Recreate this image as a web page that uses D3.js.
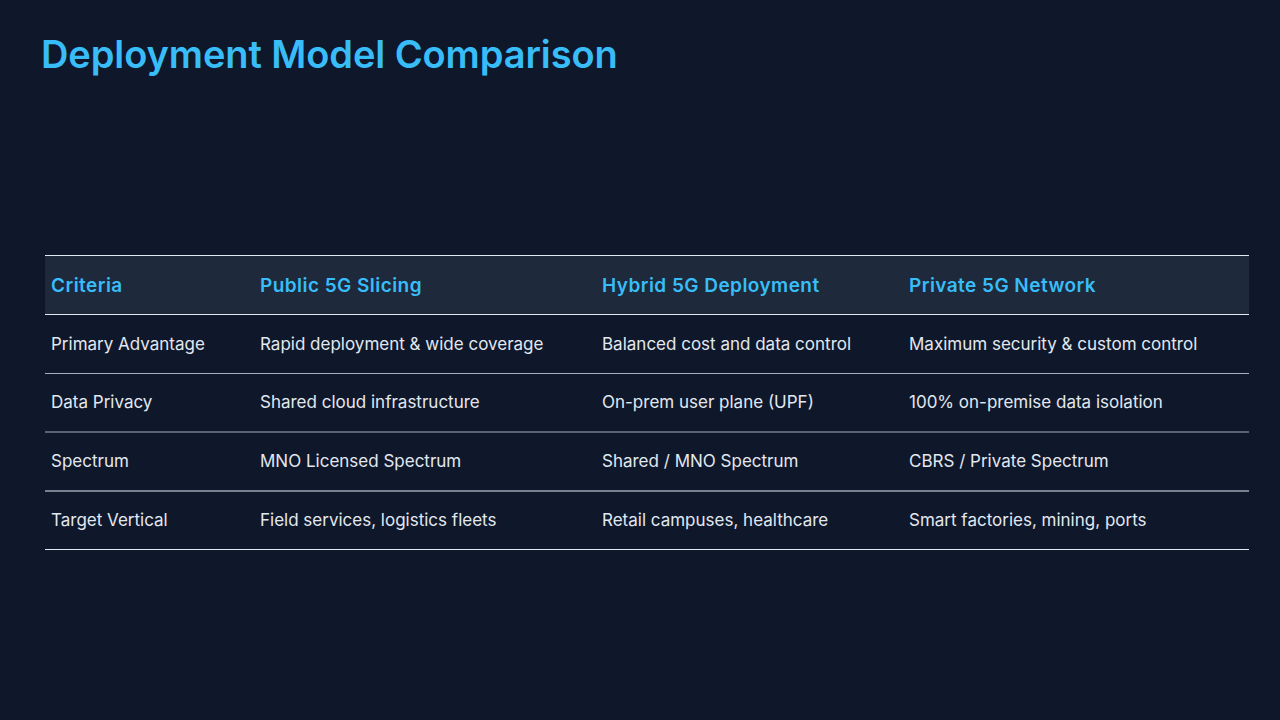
<!DOCTYPE html>
<html><head><meta charset="utf-8">
<script src="https://cdn.jsdelivr.net/npm/d3@7"></script>
<style>html,body{margin:0;background:#0f172a;}svg{display:block}</style>
</head><body><svg id="c" width="1280" height="720"></svg>
<script>
const title = "Deployment Model Comparison";
const headers = ["Criteria","Public 5G Slicing","Hybrid 5G Deployment","Private 5G Network"];
const row1 = ["Primary Advantage","Rapid deployment & wide coverage","Balanced cost and data control","Maximum security & custom control"];
const row2 = ["Data Privacy","Shared cloud infrastructure","On-prem user plane (UPF)","100% on-premise data isolation"];
const row3 = ["Spectrum","MNO Licensed Spectrum","Shared / MNO Spectrum","CBRS / Private Spectrum"];
const row4 = ["Target Vertical","Field services, logistics fleets","Retail campuses, healthcare","Smart factories, mining, ports"];
const rows = [row1,row2,row3,row4];
const font = "Inter,'Open Sans',sans-serif";
const svg = d3.select("#c");
svg.append("rect").attr("width",1280).attr("height",720).attr("fill","#0f172a");
svg.append("text").attr("x",41).attr("y",68).attr("fill","#38bdf8").attr("font-family",font).attr("font-weight",600).attr("font-size",38).attr("letter-spacing",-0.09).text(title);
const colX = [51,260,602,909];
const lineY = [255.5,314.5,373.5,432,491,549.5];
const rowBase = [350,408,467,526];
svg.append("rect").attr("x",45).attr("y",256).attr("width",1204).attr("height",58).attr("fill","#1e293b");
svg.selectAll("line.r").data(lineY).join("line").attr("class","r").attr("x1",45).attr("x2",1249).attr("y1",d=>d).attr("y2",d=>d).attr("stroke",(d,i)=>(i==2||i==3)?"#a3aebf":"#e2e8f0").attr("stroke-width",1);
svg.selectAll("text.h").data(headers).join("text").attr("class","h").attr("x",(d,i)=>colX[i]).attr("y",292).attr("fill","#38bdf8").attr("font-family",font).attr("font-weight",600).attr("font-size",19).attr("letter-spacing",0.45).text(d=>d);
rows.forEach((r,ri)=>{
 svg.selectAll("text.r"+ri).data(r).join("text").attr("class","r"+ri).attr("x",(d,i)=>colX[i]).attr("y",rowBase[ri]).attr("fill","#e2e8f0").attr("font-family",font).attr("font-size",17).text(d=>d);
});
</script></body></html>
